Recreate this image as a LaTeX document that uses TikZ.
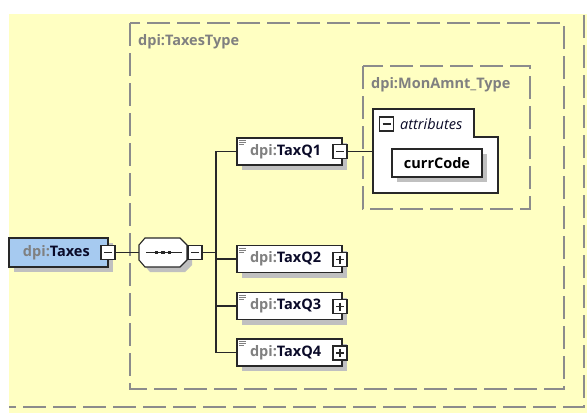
\documentclass[tikz,border=0pt]{standalone}
\usepackage{fontspec}
\setmainfont{Open Sans}
\usetikzlibrary{shadows}
\definecolor{bgyellow}{RGB}{255,255,194}
\definecolor{dashgray}{RGB}{140,140,140}
\definecolor{boxborder}{RGB}{40,40,40}
\definecolor{shadowgray}{RGB}{192,192,192}
\definecolor{prefixgray}{RGB}{128,128,128}
\definecolor{namenavy}{RGB}{10,10,40}
\definecolor{taxesblue}{RGB}{166,202,240}
\tikzset{
  dashbox/.style={draw=dashgray, line width=1.4pt, dash pattern=on 23pt off 7pt},
  shad/.style={general shadow={fill=shadowgray, shadow xshift=5pt, shadow yshift=-5pt}},
  elem/.style={draw=boxborder, fill=white, line width=1.1pt, minimum height=27pt,
    inner xsep=13pt, inner ysep=0pt, text width=79pt, align=left, shad,
    font=\bfseries\fontsize{14.5}{16}\selectfont},
  pmbox/.style={draw=boxborder, fill=white, line width=1.1pt, minimum size=14pt, inner sep=0pt},
  minusbox/.style={pmbox, path picture={
    \draw[boxborder, line width=1.1pt] ([xshift=3pt]path picture bounding box.west) -- ([xshift=-3pt]path picture bounding box.east);}},
  plusbox/.style={pmbox, path picture={
    \draw[boxborder, line width=1.1pt] ([xshift=3pt]path picture bounding box.west) -- ([xshift=-3pt]path picture bounding box.east);
    \draw[boxborder, line width=1.1pt] ([yshift=-3pt]path picture bounding box.north) -- ([yshift=3pt]path picture bounding box.south);}},
  conn/.style={draw=boxborder, line width=1.1pt},
  typelabel/.style={anchor=west, text=prefixgray, inner sep=0pt, font=\bfseries\fontsize{14.5}{16}\selectfont},
}
\newcommand{\dpiname}[1]{\textcolor{prefixgray}{dpi:}\textcolor{namenavy}{#1}}
\newcommand{\docicon}[1]{\draw[prefixgray, line width=0.7pt]
  ([shift={(3,3)}]#1.north west) -- ++(7,0)
  ([shift={(3,5)}]#1.north west) -- ++(7,0)
  ([shift={(3,7)}]#1.north west) -- ++(5,0);}
\begin{document}
\begin{tikzpicture}[x=1pt,y=-1pt]
\useasboundingbox (0,0) rectangle (587,413);
\fill[bgyellow] (9,14) rectangle (587,413);
\begin{scope}
  \clip (9,14) rectangle (587,413);
  \draw[dashbox] (-40,-40) rectangle (584,407);
\end{scope}
% TaxesType box
\draw[dashbox] (130,23) rectangle (564,389);
\node[typelabel] (ttl) at (138,42) {dpi:TaxesType};
% MonAmnt_Type box
\draw[dashbox] (363,66) rectangle (530,209);
\node[typelabel] (mtl) at (371,85) {dpi:MonAmnt\_Type};
% attributes
\draw[boxborder, fill=white, line width=1.1pt] (373,109) -- (474,109) -- (474,137) -- (498,137) -- (498,193) -- (373,193) -- cycle;
\node[minusbox] (attm) at (386.5,124) {};
\node[anchor=west, inner sep=0pt, font=\itshape\fontsize{14.5}{16}\selectfont, text=namenavy] (attl) at (400,124) {attributes};
\coordinate (attw) at (373,152);
\node[draw=boxborder, fill=white, line width=1.1pt, minimum width=90pt, minimum height=28pt, inner sep=0pt, shad,
  font=\bfseries\fontsize{14.5}{16}\selectfont] (cc) at (437,163) {currCode};
% Taxes root
\node[elem, fill=taxesblue, minimum height=29pt, inner xsep=14pt, text width=71pt] (taxes) at (58.5,252.5) {\dpiname{Taxes}};
\node[minusbox] (taxesm) at (108,252.5) {};
% sequence compositor
\node[minimum width=48pt, minimum height=29pt, inner sep=0pt] (seq) at (163,252.5) {};
\fill[shadowgray] (150,243) -- (185,243) -- (192,250) -- (192,265) -- (185,272) -- (150,272) -- (144,265) -- (144,250) -- cycle;
\draw[boxborder, fill=white, line width=1.1pt] (145,238) -- (180,238) -- (187,245) -- (187,260) -- (180,267) -- (145,267) -- (139,260) -- (139,245) -- cycle;
\draw[boxborder, line width=1.1pt] (146,252.5) -- (182,252.5);
\foreach \xx in {156.5,163,169.5} \fill[boxborder] (\xx-1.8,250.7) rectangle (\xx+1.8,254.3);
\node[minusbox] (seqm) at (195,252.5) {};
% elements
\node[elem] (q1) at (289.5,151.5) {\dpiname{TaxQ1}};
\node[minusbox] (q1m) at (340,151.5) {};
\node[elem] (q2) at (289.5,259) {\dpiname{TaxQ2}};
\node[plusbox] (q2p) at (340,259.5) {};
\node[elem] (q3) at (289.5,306) {\dpiname{TaxQ3}};
\node[plusbox] (q3p) at (340,306.5) {};
\node[elem] (q4) at (289.5,352.5) {\dpiname{TaxQ4}};
\node[plusbox] (q4p) at (340,353) {};
\docicon{q1}\docicon{q2}\docicon{q3}\docicon{q4}
% connectors
\coordinate (bus) at (216,252.5);
\draw[conn] (taxesm.east) -- (seq.west);
\draw[conn] (seqm.east) -- (bus);
\draw[conn] (q1.west) -| (bus) |- (q4.west);
\draw[conn] (q2.west) -- (q2.west -| bus);
\draw[conn] (q3.west) -- (q3.west -| bus);
\draw[conn] (q1m.east) -- (q1m.east -| attw);
\end{tikzpicture}
\end{document}
